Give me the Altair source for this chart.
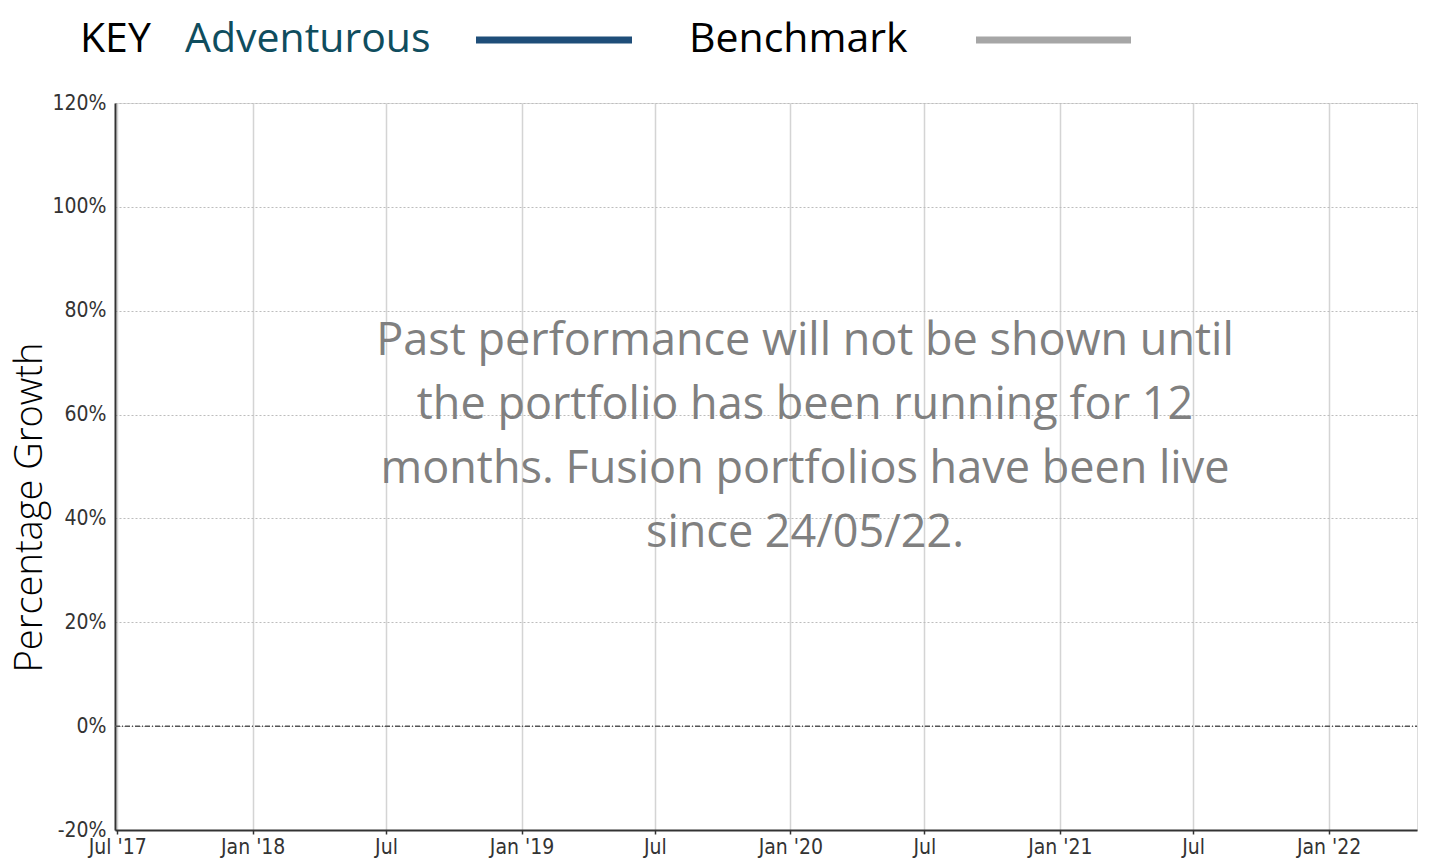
import altair as alt
import pandas as pd

# ---- data ----
domain_dates = ["2017-06-28", "2022-05-01"]
tick_dates = ["2017-07-01", "2018-01-01", "2018-07-01", "2019-01-01", "2019-07-01",
              "2020-01-01", "2020-07-01", "2021-01-01", "2021-07-01", "2022-01-01"]
y_ticks = [-0.2, 0.0, 0.2, 0.4, 0.6, 0.8, 1.0, 1.2]
zero_value = [0.0]
legend_labels = ["KEY", "Adventurous", "Benchmark"]
series_names = ["Adventurous", "Benchmark"]
series_colors = ["#1f4e79", "#a6a6a6"]
note_lines = [
    "Past performance will not be shown until",
    "the portfolio has been running for 12",
    "months. Fusion portfolios have been live",
    "since 24/05/22.",
]

W, H = 1302, 727
LABEL_FONT = "DejaVu Sans Condensed, Liberation Sans Narrow, Roboto, sans-serif"
TEXT_FONT = "Open Sans, Lato, sans-serif"

xscale = alt.Scale(type="utc", domain=[pd.Timestamp(d).isoformat() for d in domain_dates])
yscale = alt.Scale(domain=[-0.2, 1.2], nice=False, zero=False)

xaxis = alt.Axis(
    values=[pd.Timestamp(d).value // 10**6 for d in tick_dates],
    labelExpr="(utcmonth(datum.value) == 0 || utcyear(datum.value) == 2017) ? utcFormat(datum.value, \"%b '%y\") : utcFormat(datum.value, '%b')",
    title=None,
    grid=True, gridColor="#d4d4d4", gridWidth=1.5,
    ticks=True, tickSize=4, tickColor="#333333", tickWidth=1.5,
    domain=True, domainColor="#333333", domainWidth=2,
    labelFont=LABEL_FONT, labelFontSize=21, labelColor="#333333",
    labelPadding=2, labelFlush=False, labelOverlap=False,
)
yaxis = alt.Axis(
    values=y_ticks,
    labelExpr="(datum.value < 0 ? '-' : '') + format(abs(datum.value) * 100, '.0f') + '%'",
    title="Percentage Growth",
    titleFont=TEXT_FONT, titleFontSize=38, titleFontWeight=300, titleColor="#000000",
    titleAngle=-90, titleX=-85, titleY=404, titleAlign="center", titleBaseline="middle",
    grid=True, gridColor="#bdbdbd", gridDash=[2, 2], gridWidth=1,
    ticks=False, tickSize=0,
    domain=True, domainColor="#333333", domainWidth=2,
    labelFont=LABEL_FONT, labelFontSize=21, labelColor="#333333",
    labelPadding=9, labelOverlap=False,
)

frame = pd.DataFrame({"start": [domain_dates[0]], "end": [domain_dates[1]], "v": zero_value})

zero_rule = alt.Chart(frame).mark_rule(
    color="#555555", strokeDash=[5, 2, 1, 2], strokeWidth=1.5
).encode(
    x=alt.X("start:T", scale=xscale, axis=xaxis),
    x2="end:T",
    y=alt.Y("v:Q", scale=yscale, axis=yaxis),
)

note = alt.Chart(frame).mark_text(
    font=TEXT_FONT, fontSize=45, color="#808080", align="center",
    baseline="alphabetic", lineHeight=64,
).encode(x=alt.value(690), y=alt.value(252), text=alt.value(note_lines))

leg_text = pd.DataFrame({
    "label": legend_labels,
    "px": [-35, 70, 574],
    "col": ["#000000", "#0f4d5e", "#000000"],
})
legend_txt = alt.Chart(leg_text).mark_text(
    font=TEXT_FONT, fontSize=41, align="left", baseline="alphabetic"
).encode(
    x=alt.X("px:Q", scale=None),
    y=alt.value(-51),
    text="label:N",
    color=alt.Color("col:N", scale=None),
)

leg_lines = pd.DataFrame({
    "name": series_names,
    "x1": [361, 861],
    "x2": [517, 1016],
    "col": series_colors,
})
legend_rules = alt.Chart(leg_lines).mark_rule(strokeWidth=7).encode(
    x=alt.X("x1:Q", scale=None),
    x2="x2:Q",
    y=alt.value(-63),
    color=alt.Color("col:N", scale=None),
)

chart = alt.layer(zero_rule, note, legend_txt, legend_rules).properties(
    width=W, height=H,
    autosize=alt.AutoSizeParams(type="none"),
    padding={"left": 107, "top": 95, "right": 4, "bottom": 30},
).configure_view(
    stroke="#e3e3e3", strokeWidth=3
).configure(background="white")

chart.save("out.html", embed_options={"renderer": "svg", "actions": False})
